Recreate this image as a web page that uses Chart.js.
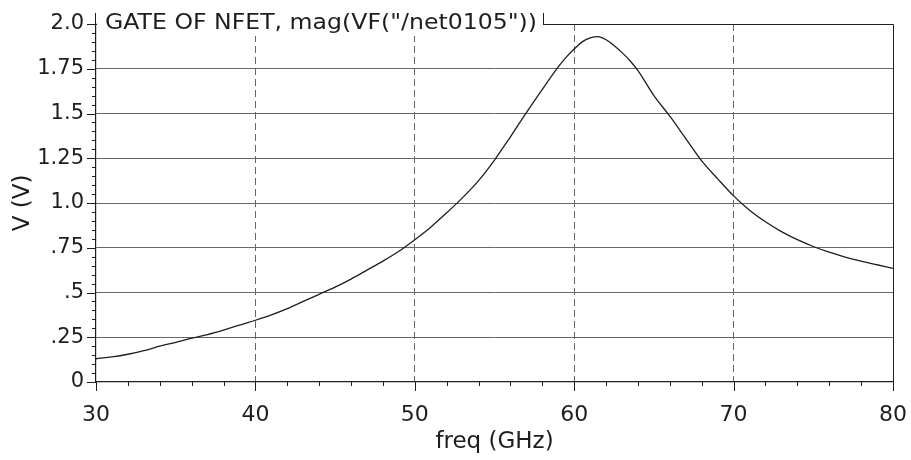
<!DOCTYPE html>
<html>
<head>
<meta charset="utf-8">
<script src="https://cdn.jsdelivr.net/npm/chart.js@4.4.1/dist/chart.umd.min.js"></script>
<style>
    html, body { margin: 0; padding: 0; background: #fff; }
    #wrap { width: 911px; height: 460px; }
</style>
</head>
<body>
<div id="wrap"><canvas id="gate-chart" width="911" height="460"></canvas></div>
<script>
// values, 1 GHz steps (half steps round the peak)
const freqGHz = [30, 31, 32, 33, 34, 35, 36, 37, 38, 39,
                 40, 41, 42, 43, 44, 45, 46, 47, 48, 49,
                 50, 51, 52, 53, 54, 55, 56, 57, 58, 59,
                 59.5, 60, 60.5, 61, 61.5, 62, 62.5, 63, 63.5, 64,
                 65, 66, 67, 68, 69,
                 70, 71, 72, 73, 74, 75, 76, 77, 78, 79, 80];
const gateVolts = [0.13, 0.14, 0.155, 0.175, 0.2, 0.222, 0.245, 0.265, 0.29, 0.318,
                   0.345, 0.375, 0.41, 0.45, 0.49, 0.53, 0.575, 0.625, 0.675, 0.73,
                   0.795, 0.865, 0.945, 1.03, 1.125, 1.24, 1.37, 1.505, 1.635, 1.76,
                   1.815, 1.86, 1.9, 1.922, 1.93, 1.912, 1.88, 1.84, 1.795, 1.74,
                   1.6, 1.485, 1.36, 1.235, 1.135,
                   1.04, 0.96, 0.895, 0.84, 0.795, 0.757, 0.725, 0.698, 0.675, 0.655, 0.635];

const xMajorTicks = [30, 40, 50, 60, 70, 80];
const xMinorStep = 2;
const yMajorTicks = [0, 0.25, 0.5, 0.75, 1.0, 1.25, 1.5, 1.75, 2.0];
const yTickLabels = ['0', '.25', '.5', '.75', '1.0', '1.25', '1.5', '1.75', '2.0'];
const yMinorStep = 0.05;

const chartTitle = 'GATE OF NFET, mag(VF("/net0105"))';
const xTitle = 'freq (GHz)';
const yTitle = 'V (V)';

const FONT = '"DejaVu Sans", Verdana, sans-serif';
const INK = '#1e1e1e';
const GRID = '#666';

function isMajor(list, v) {
    return list.some(m => Math.abs(m - v) < 1e-6);
}

// tick marks, top/right frame and the title box
const framePlugin = {
    id: 'frame',
    afterDraw(chart) {
        const ctx = chart.ctx;
        const area = chart.chartArea;
        const xs = chart.scales.x;
        const ys = chart.scales.y;
        ctx.save();
        ctx.strokeStyle = INK;
        ctx.lineWidth = 1;

        ctx.beginPath();
        for (let v = xs.min; v <= xs.max + 1e-6; v += xMinorStep) {
            const px = Math.round(xs.getPixelForValue(v)) + 0.5;
            const len = isMajor(xMajorTicks, v) ? 9 : 4;
            ctx.moveTo(px, area.bottom);
            ctx.lineTo(px, area.bottom + len);
        }
        const nY = Math.round((ys.max - ys.min) / yMinorStep);
        for (let i = 0; i <= nY; i++) {
            const v = ys.min + i * yMinorStep;
            const py = Math.round(ys.getPixelForValue(v)) + 0.5;
            const len = isMajor(yMajorTicks, v) ? 9 : 4;
            ctx.moveTo(area.left - len, py);
            ctx.lineTo(area.left, py);
        }
        // top and right edges
        ctx.moveTo(area.left, Math.round(area.top) + 0.5);
        ctx.lineTo(Math.round(area.right) + 0.5, Math.round(area.top) + 0.5);
        ctx.lineTo(Math.round(area.right) + 0.5, area.bottom);
        ctx.stroke();

        // title box sitting on the top edge
        const boxRight = 543;
        ctx.fillStyle = '#fff';
        ctx.fillRect(area.left + 1, area.top - 12, boxRight - area.left - 1, 24);
        ctx.beginPath();
        ctx.moveTo(area.left - 0.5, area.top - 11);
        ctx.lineTo(area.left - 0.5, area.top + 11);
        ctx.moveTo(boxRight + 0.5, area.top - 11);
        ctx.lineTo(boxRight + 0.5, Math.round(area.top) + 0.5);
        ctx.lineTo(boxRight + 8, Math.round(area.top) + 0.5);
        ctx.stroke();

        ctx.font = '22px ' + FONT;
        ctx.fillStyle = INK;
        ctx.textBaseline = 'alphabetic';
        const w = ctx.measureText(chartTitle).width;
        const target = 432;
        ctx.translate(area.left + 9, area.top + 5);
        ctx.scale(target / w, 1);
        ctx.fillText(chartTitle, 0, 0);
        ctx.restore();
    }
};

const ctx = document.getElementById('gate-chart').getContext('2d');
new Chart(ctx, {
    type: 'line',
    data: {
        datasets: [{
            label: chartTitle,
            data: freqGHz.map((f, i) => ({ x: f, y: gateVolts[i] })),
            borderColor: INK,
            borderWidth: 1.3,
            pointRadius: 0,
            fill: false,
            cubicInterpolationMode: 'monotone'
        }]
    },
    options: {
        responsive: false,
        animation: false,
        devicePixelRatio: 1,
        layout: { padding: { top: 24, right: 18, left: 0, bottom: 0 } },
        plugins: {
            legend: { display: false },
            tooltip: { enabled: false }
        },
        scales: {
            x: {
                type: 'linear',
                min: 30,
                max: 80,
                afterBuildTicks: scale => {
                    const t = [];
                    for (let v = 30; v <= 80; v += xMinorStep) t.push({ value: v });
                    scale.ticks = t;
                },
                afterFit: scale => {
                    scale.height = 78;
                    scale.paddingLeft = 0;
                    scale.paddingRight = 0;
                },
                ticks: {
                    autoSkip: false,
                    maxRotation: 0,
                    padding: 20,
                    color: INK,
                    font: { family: FONT, size: 22 },
                    callback: v => isMajor(xMajorTicks, v) ? String(v) : ''
                },
                grid: {
                    drawTicks: false,
                    color: c => (c.tick && isMajor(xMajorTicks, c.tick.value) && c.tick.value > 30 && c.tick.value < 80) ? GRID : 'transparent',
                    lineWidth: 1
                },
                border: { display: true, color: INK, width: 1.2, dash: [7, 4] },
                title: {
                    display: true,
                    text: xTitle,
                    color: INK,
                    font: { family: FONT, size: 23 },
                    padding: { top: 0, bottom: 4 }
                }
            },
            y: {
                type: 'linear',
                min: 0,
                max: 2,
                afterBuildTicks: scale => {
                    const t = [];
                    for (let i = 0; i <= 40; i++) t.push({ value: i * yMinorStep });
                    scale.ticks = t;
                },
                afterFit: scale => {
                    scale.width = 96;
                    scale.paddingTop = 0;
                    scale.paddingBottom = 0;
                },
                ticks: {
                    autoSkip: false,
                    padding: 12,
                    color: INK,
                    font: { family: FONT, size: 21 },
                    callback: v => {
                        const k = yMajorTicks.findIndex(m => Math.abs(m - v) < 1e-6);
                        return k >= 0 ? yTickLabels[k] : '';
                    }
                },
                grid: {
                    drawTicks: false,
                    color: c => (c.tick && isMajor(yMajorTicks, c.tick.value) && c.tick.value > 0) ? GRID : 'transparent',
                    lineWidth: 1
                },
                border: { display: true, color: INK, width: 1.2 },
                title: {
                    display: true,
                    text: yTitle,
                    color: INK,
                    font: { family: FONT, size: 23 },
                    padding: { top: 9, bottom: 0 }
                }
            }
        }
    },
    plugins: [framePlugin]
});
</script>
</body>
</html>
